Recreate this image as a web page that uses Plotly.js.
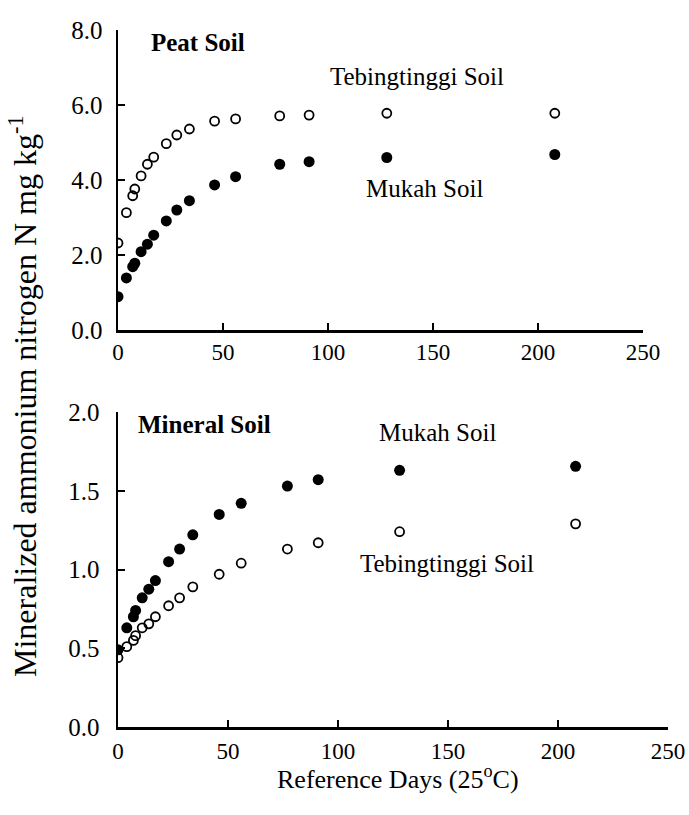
<!DOCTYPE html>
<html><head><meta charset="utf-8">
<script src="https://cdn.plot.ly/plotly-3.0.1.min.js"></script>
<style>body{margin:0;background:#fff}#chart{width:689px;height:815px}</style>
</head><body><div id="chart"></div>
<script>
// Reference days
const days = [0, 4, 7, 8, 11, 14, 17, 23, 28, 34, 46, 56, 77, 91, 128, 208];
// Peat soil
const peatTebing = [2.32, 3.13, 3.58, 3.76, 4.11, 4.42, 4.61, 4.97, 5.20, 5.36, 5.57, 5.63, 5.71, 5.73, 5.78, 5.78];
const peatMukah  = [0.89, 1.39, 1.69, 1.78, 2.09, 2.29, 2.53, 2.91, 3.20, 3.45, 3.87, 4.09, 4.42, 4.49, 4.60, 4.68];
// Mineral soil
const minMukah   = [0.49, 0.63, 0.70, 0.74, 0.82, 0.875, 0.93, 1.05, 1.13, 1.22, 1.35, 1.42, 1.53, 1.57, 1.63, 1.655];
const minTebing  = [0.44, 0.51, 0.55, 0.58, 0.63, 0.655, 0.70, 0.77, 0.82, 0.89, 0.97, 1.04, 1.13, 1.17, 1.24, 1.29];
const xTicks = [0, 50, 100, 150, 200, 250];
const peatTicks = [0, 2, 4, 6, 8];
const minTicks = [0, 0.5, 1.0, 1.5, 2.0];

const serif = 'Liberation Serif, Times New Roman, serif';
const openM = {symbol: 'circle-open', size: 9, color: '#000', line: {width: 1.8, color: '#000'}};
const fillM = {symbol: 'circle', size: 11, color: '#000'};

const traces = [
  {x: days, y: peatTebing, xaxis: 'x', yaxis: 'y', mode: 'markers', marker: openM, name: 'Tebingtinggi Soil'},
  {x: days, y: peatMukah, xaxis: 'x', yaxis: 'y', mode: 'markers', marker: fillM, name: 'Mukah Soil'},
  {x: days, y: minMukah, xaxis: 'x2', yaxis: 'y2', mode: 'markers', marker: fillM, name: 'Mukah Soil'},
  {x: days, y: minTebing, xaxis: 'x2', yaxis: 'y2', mode: 'markers', marker: openM, name: 'Tebingtinggi Soil'}
];

const axCommon = {
  showline: true, linewidth: 2.5, linecolor: '#000', ticks: 'inside', ticklen: 7, tickwidth: 2,
  tickcolor: '#000', showgrid: false, zeroline: false, tickfont: {family: serif, size: 23, color: '#000'}
};

const W = 689, H = 815, L = 118, R = 21, T = 30, B = 88;
const pw = W - L - R, ph = H - T - B;
const px = v => (v - L) / pw;
const py = v => (H - B - v) / ph;

const yTickFont = {family: serif, size: 25, color: '#000'};

const layout = {
  width: W, height: H, showlegend: false,
  margin: {l: L, r: R, t: T, b: B},
  paper_bgcolor: '#fff', plot_bgcolor: '#fff',
  font: {family: serif, color: '#000'},
  xaxis: Object.assign({}, axCommon, {domain: [0, px(643)], range: [0, 250], tickvals: xTicks, anchor: 'y', ticklabelstandoff: 0}),
  yaxis: Object.assign({}, axCommon, {domain: [py(330), 1], range: [0, 8], tickvals: peatTicks, tickformat: '.1f', anchor: 'x', tickfont: yTickFont, ticklabelstandoff: 8}),
  xaxis2: Object.assign({}, axCommon, {domain: [0, 1], range: [0, 250], tickvals: xTicks, anchor: 'y2', ticklabelstandoff: 2}),
  yaxis2: Object.assign({}, axCommon, {domain: [0, py(412)], range: [0, 2], tickvals: minTicks, tickformat: '.1f', anchor: 'x2', tickfont: yTickFont, ticklabelstandoff: 11}),
  annotations: [
    {text: '<b>Peat Soil</b>', xref: 'paper', yref: 'paper', x: px(149), y: py(42), xanchor: 'left', yanchor: 'middle', showarrow: false, font: {family: serif, size: 25}},
    {text: 'Tebingtinggi Soil', xref: 'paper', yref: 'paper', x: px(417), y: py(77), xanchor: 'center', yanchor: 'middle', showarrow: false, font: {family: serif, size: 25}},
    {text: 'Mukah Soil', xref: 'paper', yref: 'paper', x: px(424), y: py(188), xanchor: 'center', yanchor: 'middle', showarrow: false, font: {family: serif, size: 25}},
    {text: '<b>Mineral Soil</b>', xref: 'paper', yref: 'paper', x: px(136), y: py(424), xanchor: 'left', yanchor: 'middle', showarrow: false, font: {family: serif, size: 25}},
    {text: 'Mukah Soil', xref: 'paper', yref: 'paper', x: px(437), y: py(432), xanchor: 'center', yanchor: 'middle', showarrow: false, font: {family: serif, size: 25}},
    {text: 'Tebingtinggi Soil', xref: 'paper', yref: 'paper', x: px(447), y: py(563), xanchor: 'center', yanchor: 'middle', showarrow: false, font: {family: serif, size: 25}},
    {text: 'Mineralized ammonium nitrogen N mg kg<sup>-1</sup>', xref: 'paper', yref: 'paper', x: px(23), y: py(396), xanchor: 'center', yanchor: 'middle', textangle: -90, showarrow: false, font: {family: serif, size: 32}},
    {text: 'Reference Days (25<sup>o</sup>C)', xref: 'paper', yref: 'paper', x: px(398), y: py(777), xanchor: 'center', yanchor: 'middle', showarrow: false, font: {family: serif, size: 26}}
  ]
};

Plotly.newPlot('chart', traces, layout, {displayModeBar: false, staticPlot: true});
</script>
</body></html>
